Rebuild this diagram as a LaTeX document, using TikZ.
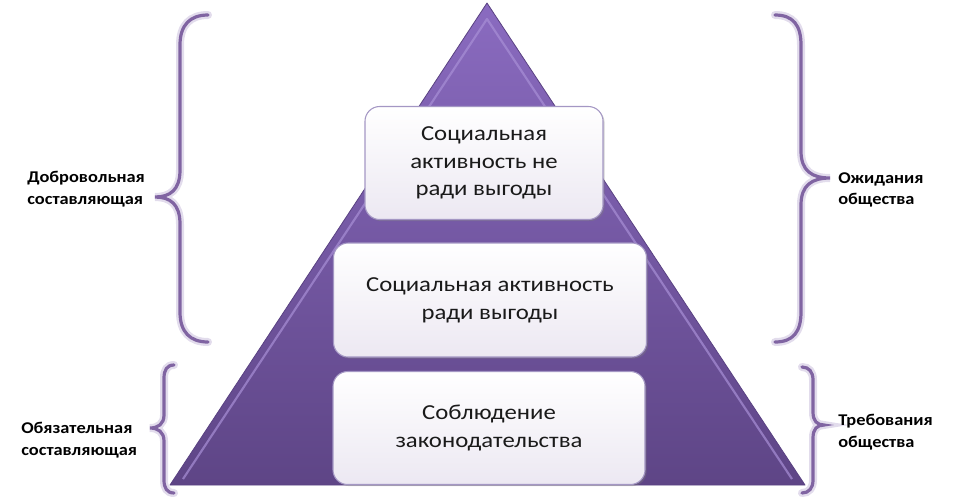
\documentclass[tikz,border=0pt]{standalone}
\usepackage{fontspec}
\setmainfont{Carlito}
\newfontfamily\boxfont[FakeStretch=1.16]{Carlito}
\newfontfamily\lblfont[FakeStretch=1.12]{Carlito}
\usetikzlibrary{shadows}
\definecolor{brc}{HTML}{8064A2}
\definecolor{brglow}{HTML}{CFC4E0}
\definecolor{tritop}{HTML}{8A6BC0}
\definecolor{tribot}{HTML}{5E4586}
\definecolor{triedge}{HTML}{5A4282}
\definecolor{trihl}{HTML}{A88FD6}
\definecolor{boxbot}{HTML}{ECE8F2}
\definecolor{boxedge}{HTML}{A497C4}
\definecolor{txt}{HTML}{1A1A1A}
\begin{document}
\begin{tikzpicture}[x=0.75pt,y=-0.75pt,
  brace/.style={line width=3.2pt*0.75, color=brc, line cap=round},
  braceglow/.style={line width=8pt*0.75, color=brglow, opacity=0.6, line cap=round},
  level/.style={draw=boxedge, line width=0.8pt, rounded corners=11pt,
    top color=white, bottom color=boxbot, align=center, text=txt,
    font=\boxfont\fontsize{16pt}{20.8pt}\selectfont, inner sep=0pt,
    drop shadow={shadow xshift=1.2pt, shadow yshift=-1.2pt, opacity=0.35}},
  lbl/.style={font=\lblfont\bfseries\fontsize{12.3pt}{16pt}\selectfont, align=left, anchor=west, text=black, inner sep=0pt}]
\useasboundingbox (0,0) rectangle (974,497);
% pyramid
\coordinate (L) at (170,485);
\coordinate (A) at (487,3);
\coordinate (R) at (805,485);
\shade[top color=tritop, bottom color=tribot] (L) -- (A) -- (R) -- cycle;
\draw[triedge, line width=0.6pt, line join=round] (L) -- (A) -- (R) -- cycle;
\coordinate (Li) at (183,479);
\coordinate (Ai) at (487,19);
\coordinate (Ri) at (792,479);
\draw[trihl, line width=1.6pt, opacity=0.7, line join=round] (Li) -- (Ai) -- (Ri);
% levels
\node[level, minimum width=178.5pt, minimum height=84.75pt] (top) at (484,163)
  {Социальная\\активность не\\ради выгоды};
\node[level, minimum width=234.75pt, minimum height=85.5pt] (mid) at (490,300)
  {Социальная активность\\ради выгоды};
\node[level, minimum width=234pt, minimum height=84.75pt] (bot) at (489,428)
  {Соблюдение\\законодательства};
% braces
\foreach \st in {braceglow,brace}{
\draw[\st] (208,15) .. controls (190,15) and (180,25) .. (180,45) -- (180,170)
  .. controls (180,190) and (170,197) .. (155,197)
  .. controls (170,197) and (180,204) .. (180,224) -- (180,312)
  .. controls (180,332) and (190,342) .. (208,342);
\draw[\st] (174,365) .. controls (167,365) and (164,370) .. (164,378) -- (164,415)
  .. controls (164,424) and (158,428) .. (150,428)
  .. controls (158,428) and (164,432) .. (164,441) -- (164,480)
  .. controls (164,488) and (167,493) .. (174,493);
\draw[\st] (775,15) .. controls (793,15) and (801,25) .. (801,45) -- (801,151)
  .. controls (801,171) and (812,178) .. (830,178)
  .. controls (812,178) and (801,185) .. (801,205) -- (801,312)
  .. controls (801,332) and (793,342) .. (775,342);
\draw[\st] (802,367) .. controls (809,367) and (813,372) .. (813,380) -- (813,412)
  .. controls (813,421) and (817,425) .. (824,425)
  .. controls (817,425) and (813,429) .. (813,438) -- (813,480)
  .. controls (813,488) and (809,493) .. (802,493);
}
% labels
\node[lbl] (vol) at (27,189) {Добровольная\\составляющая};
\node[lbl] (obl) at (21,440) {Обязательная\\составляющая};
\node[lbl] (exp) at (838,190) {Ожидания\\общества};
\node[lbl] (req) at (838,432) {Требования\\общества};
\end{tikzpicture}
\end{document}
